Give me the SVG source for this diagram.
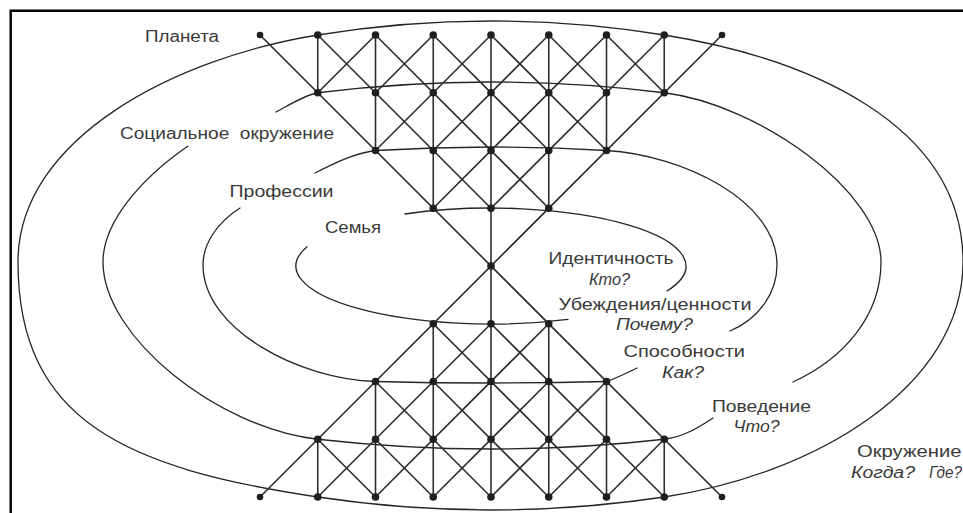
<svg xmlns="http://www.w3.org/2000/svg" width="963" height="513" viewBox="0 0 963 513">
  <style>
    .frame { fill: none; stroke: #000; stroke-width: 2.4; }
    .ring { fill: none; stroke: #262626; stroke-width: 1.3; stroke-linecap: round; }
    .edge { fill: none; stroke: #2e2e2e; stroke-width: 1.6; stroke-linecap: round; }
    .dot { fill: #1f1f1f; }
    .lbl { font-family: "Liberation Sans", Arial, sans-serif; font-size: 16px; fill: #3a3a3a; white-space: pre; }
    .q { font-style: italic; }
  </style>

  <!-- page frame -->
  <path class="frame" d="M10.7,513 V10.7 H963"/>

  <!-- nested level rings (each drawn with its gaps for the labels) -->
  <g id="rings">
    <!-- outer ring: environment -->
    <path class="ring" d="M317.75,35 C433.25,16.33 548.75,16.33 664.25,35 C804.25,57.6 963,122 963,262 C963,387 814.25,474.5 664.25,497 C548.75,514.33 433.25,514.33 317.75,497 C127.75,468.5 18,422 18,262 C18,137 177.75,57.6 317.75,35 Z"/>
    <!-- third ring -->
    <path class="ring" d="M276,112 C290,104.5 304,95.5 317.75,92.75 C433.25,78.42 548.75,78.42 664.25,92.75 C759.25,104.5 881,192 881,262 C881,315 845,358 793,382"/>
    <path class="ring" d="M187.7,146.2 C139.2,179.7 103,223.5 103,262 C103,337 217.75,428 317.75,439.25 C433.25,452.25 548.75,452.25 664.25,439.25 C683,437 698,428 713,418"/>
    <!-- second ring -->
    <path class="ring" d="M315,173 C335,163 355,153 375.5,150.5 C452.5,145.83 529.5,145.83 606.5,150.5 C681.5,155 777,200 777,265 C777,292 760,318 730,331"/>
    <path class="ring" d="M240,208 C218,222 203,243 203,265 C203,330 300.5,379.5 375.5,381.5 C452.5,383.5 529.5,383.5 606.5,381.5 C617,378 627,373 637,368"/>
    <!-- inner ring -->
    <path class="ring" d="M405,214 A195,58 0 0 1 667,291"/>
    <path class="ring" d="M307,246.8 A195,58 0 0 0 568,319.3"/>
  </g>

  <!-- lattice connectors -->
  <g id="connectors">
    <!-- main diagonals through the waist -->
    <path class="edge" d="M260,35 L722,497 M722,35 L260,497"/>
    <!-- upper cone, falling right -->
    <path class="edge" d="M317.75,35 L491,208.25 M375.5,35 L548.75,208.25 M433.25,35 L548.75,150.5 M491,35 L606.5,150.5 M548.75,35 L606.5,92.75 M606.5,35 L664.25,92.75"/>
    <!-- upper cone, falling left -->
    <path class="edge" d="M664.25,35 L491,208.25 M606.5,35 L433.25,208.25 M548.75,35 L433.25,150.5 M491,35 L375.5,150.5 M433.25,35 L375.5,92.75 M375.5,35 L317.75,92.75"/>
    <!-- lower cone, rising right -->
    <path class="edge" d="M317.75,497 L491,323.75 M375.5,497 L548.75,323.75 M433.25,497 L548.75,381.5 M491,497 L606.5,381.5 M548.75,497 L606.5,439.25 M606.5,497 L664.25,439.25"/>
    <!-- lower cone, rising left -->
    <path class="edge" d="M664.25,497 L491,323.75 M606.5,497 L433.25,323.75 M548.75,497 L433.25,381.5 M491,497 L375.5,381.5 M433.25,497 L375.5,439.25 M375.5,497 L317.75,439.25"/>
    <!-- verticals -->
    <path class="edge" d="M317.75,35 V92.75 M375.5,35 V150.5 M433.25,35 V208.25 M491,35 V497 M548.75,35 V208.25 M606.5,35 V150.5 M664.25,35 V92.75"/>
    <path class="edge" d="M317.75,439.25 V497 M375.5,381.5 V497 M433.25,323.75 V497 M548.75,323.75 V497 M606.5,381.5 V497 M664.25,439.25 V497"/>
  </g>

  <!-- lattice nodes -->
  <g id="nodes">
    <g id="n0-0"><circle class="dot" cx="260" cy="35" r="3.3"/></g>
    <g id="n0-1"><circle class="dot" cx="317.75" cy="35" r="3.8"/></g>
    <g id="n0-2"><circle class="dot" cx="375.5" cy="35" r="3.8"/></g>
    <g id="n0-3"><circle class="dot" cx="433.25" cy="35" r="3.8"/></g>
    <g id="n0-4"><circle class="dot" cx="491" cy="35" r="3.8"/></g>
    <g id="n0-5"><circle class="dot" cx="548.75" cy="35" r="3.8"/></g>
    <g id="n0-6"><circle class="dot" cx="606.5" cy="35" r="3.8"/></g>
    <g id="n0-7"><circle class="dot" cx="664.25" cy="35" r="3.8"/></g>
    <g id="n0-8"><circle class="dot" cx="722" cy="35" r="3.3"/></g>

    <g id="n1-1"><circle class="dot" cx="317.75" cy="92.75" r="3.8"/></g>
    <g id="n1-2"><circle class="dot" cx="375.5" cy="92.75" r="3.8"/></g>
    <g id="n1-3"><circle class="dot" cx="433.25" cy="92.75" r="3.8"/></g>
    <g id="n1-4"><circle class="dot" cx="491" cy="92.75" r="3.8"/></g>
    <g id="n1-5"><circle class="dot" cx="548.75" cy="92.75" r="3.8"/></g>
    <g id="n1-6"><circle class="dot" cx="606.5" cy="92.75" r="3.8"/></g>
    <g id="n1-7"><circle class="dot" cx="664.25" cy="92.75" r="3.8"/></g>

    <g id="n2-2"><circle class="dot" cx="375.5" cy="150.5" r="3.8"/></g>
    <g id="n2-3"><circle class="dot" cx="433.25" cy="150.5" r="3.8"/></g>
    <g id="n2-4"><circle class="dot" cx="491" cy="150.5" r="3.8"/></g>
    <g id="n2-5"><circle class="dot" cx="548.75" cy="150.5" r="3.8"/></g>
    <g id="n2-6"><circle class="dot" cx="606.5" cy="150.5" r="3.8"/></g>

    <g id="n3-3"><circle class="dot" cx="433.25" cy="208.25" r="3.8"/></g>
    <g id="n3-4"><circle class="dot" cx="491" cy="208.25" r="3.8"/></g>
    <g id="n3-5"><circle class="dot" cx="548.75" cy="208.25" r="3.8"/></g>

    <g id="n4-4"><circle class="dot" cx="491" cy="266" r="3.8"/></g>

    <g id="n5-3"><circle class="dot" cx="433.25" cy="323.75" r="3.8"/></g>
    <g id="n5-4"><circle class="dot" cx="491" cy="323.75" r="3.8"/></g>
    <g id="n5-5"><circle class="dot" cx="548.75" cy="323.75" r="3.8"/></g>

    <g id="n6-2"><circle class="dot" cx="375.5" cy="381.5" r="3.8"/></g>
    <g id="n6-3"><circle class="dot" cx="433.25" cy="381.5" r="3.8"/></g>
    <g id="n6-4"><circle class="dot" cx="491" cy="381.5" r="3.8"/></g>
    <g id="n6-5"><circle class="dot" cx="548.75" cy="381.5" r="3.8"/></g>
    <g id="n6-6"><circle class="dot" cx="606.5" cy="381.5" r="3.8"/></g>

    <g id="n7-1"><circle class="dot" cx="317.75" cy="439.25" r="3.8"/></g>
    <g id="n7-2"><circle class="dot" cx="375.5" cy="439.25" r="3.8"/></g>
    <g id="n7-3"><circle class="dot" cx="433.25" cy="439.25" r="3.8"/></g>
    <g id="n7-4"><circle class="dot" cx="491" cy="439.25" r="3.8"/></g>
    <g id="n7-5"><circle class="dot" cx="548.75" cy="439.25" r="3.8"/></g>
    <g id="n7-6"><circle class="dot" cx="606.5" cy="439.25" r="3.8"/></g>
    <g id="n7-7"><circle class="dot" cx="664.25" cy="439.25" r="3.8"/></g>

    <g id="n8-0"><circle class="dot" cx="260" cy="497" r="3.3"/></g>
    <g id="n8-1"><circle class="dot" cx="317.75" cy="497" r="3.8"/></g>
    <g id="n8-2"><circle class="dot" cx="375.5" cy="497" r="3.8"/></g>
    <g id="n8-3"><circle class="dot" cx="433.25" cy="497" r="3.8"/></g>
    <g id="n8-4"><circle class="dot" cx="491" cy="497" r="3.8"/></g>
    <g id="n8-5"><circle class="dot" cx="548.75" cy="497" r="3.8"/></g>
    <g id="n8-6"><circle class="dot" cx="606.5" cy="497" r="3.8"/></g>
    <g id="n8-7"><circle class="dot" cx="664.25" cy="497" r="3.8"/></g>
    <g id="n8-8"><circle class="dot" cx="722" cy="497" r="3.3"/></g>
  </g>

  <!-- ring labels (left) -->
  <g id="ring-labels">
    <text class="lbl" x="145" y="41.5" textLength="74" lengthAdjust="spacingAndGlyphs">Планета</text>
    <text class="lbl" x="120" y="139" textLength="214" lengthAdjust="spacingAndGlyphs" xml:space="preserve">Социальное  окружение</text>
    <text class="lbl" x="229.5" y="197" textLength="104" lengthAdjust="spacingAndGlyphs">Профессии</text>
    <text class="lbl" x="325" y="233" textLength="56" lengthAdjust="spacingAndGlyphs">Семья</text>
  </g>

  <!-- level labels (right) -->
  <g id="level-labels">
    <text class="lbl" x="548.5" y="264" textLength="125" lengthAdjust="spacingAndGlyphs">Идентичность</text>
    <text class="lbl q" x="589" y="285" textLength="41" lengthAdjust="spacingAndGlyphs">Кто?</text>
    <text class="lbl" x="558.5" y="310" textLength="193" lengthAdjust="spacingAndGlyphs">Убеждения/ценности</text>
    <text class="lbl q" x="616" y="330" textLength="77" lengthAdjust="spacingAndGlyphs">Почему?</text>
    <text class="lbl" x="623.5" y="357" textLength="121.5" lengthAdjust="spacingAndGlyphs">Способности</text>
    <text class="lbl q" x="662" y="378" textLength="42" lengthAdjust="spacingAndGlyphs">Как?</text>
    <text class="lbl" x="712" y="411.5" textLength="99" lengthAdjust="spacingAndGlyphs">Поведение</text>
    <text class="lbl q" x="733.5" y="431.5" textLength="46" lengthAdjust="spacingAndGlyphs">Что?</text>
    <text class="lbl" x="857" y="457" textLength="104.5" lengthAdjust="spacingAndGlyphs">Окружение</text>
    <text class="lbl q" x="851" y="477.5" textLength="64" lengthAdjust="spacingAndGlyphs">Когда?</text>
    <text class="lbl q" x="929" y="477.5" textLength="33" lengthAdjust="spacingAndGlyphs">Где?</text>
  </g>
</svg>
